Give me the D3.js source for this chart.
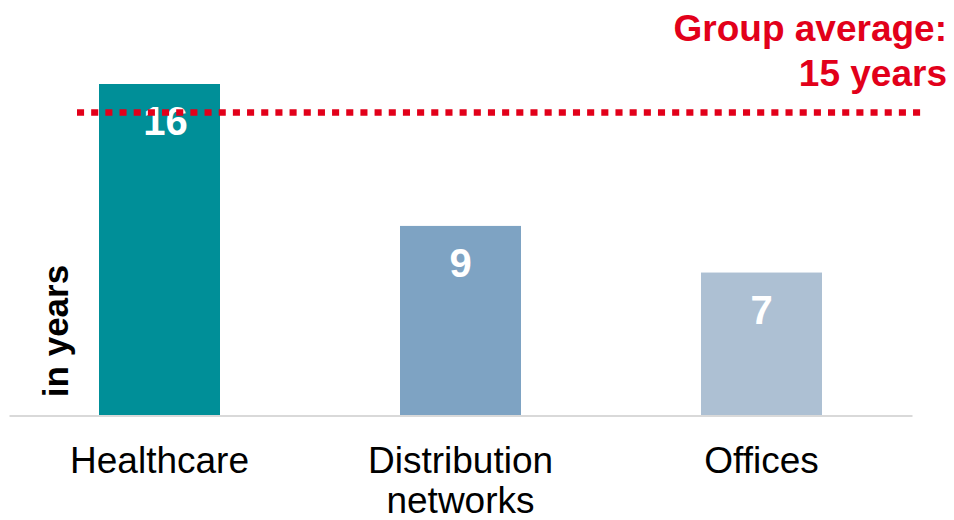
<!DOCTYPE html>
<html>
<head>
<meta charset="utf-8">
<script src="https://cdn.jsdelivr.net/npm/d3@7"></script>
<style>
  html, body { margin: 0; padding: 0; background: #fff; }
  svg { display: block; font-family: "Liberation Sans", Arial, sans-serif; }
</style>
</head>
<body>
<svg id="chart" width="954" height="520"></svg>
<script>
// ---- data ----
const categories = ["Healthcare", "Distribution networks", "Offices"];
const categoryLines = [["Healthcare"], ["Distribution", "networks"], ["Offices"]];
const values = [16, 9.15, 6.9];
const barColors = ["#008f98", "#7ea3c3", "#adc0d3"];
const groupAverage = 14.62;
const averageLabel = ["Group average:", "15 years"];
const axisTitle = "in years";

// ---- layout ----
const W = 954, H = 520;
const baseY = 415.5;
const svg = d3.select("#chart");

const x = d3.scaleBand()
  .domain(categories)
  .range([9, 912])
  .paddingInner(0.598)
  .paddingOuter(0.299);

const y = d3.scaleLinear()
  .domain([0, 16])
  .range([baseY, 84]);

// bars
svg.append("g").selectAll("rect")
  .data(categories)
  .join("rect")
  .attr("x", d => x(d))
  .attr("width", x.bandwidth())
  .attr("y", (d, i) => y(values[i]))
  .attr("height", (d, i) => y(0) - y(values[i]))
  .attr("fill", (d, i) => barColors[i]);

// value labels
const fmt = d3.format(".0f");
svg.append("g").selectAll("text")
  .data(categories)
  .join("text")
  .attr("x", d => x(d) + x.bandwidth() / 2)
  .attr("dx", (d, i) => fmt(values[i]).length > 1 ? 6 : 0)
  .attr("y", (d, i) => y(values[i]) + 51)
  .attr("text-anchor", "middle")
  .attr("fill", "#ffffff")
  .attr("font-weight", "bold")
  .attr("font-size", 40)
  .text((d, i) => fmt(values[i]));

// x axis
const xAxis = svg.append("g")
  .attr("transform", `translate(0,${baseY})`)
  .call(d3.axisBottom(x).tickSize(0).tickSizeOuter(0).tickFormat(""));
xAxis.select(".domain")
  .attr("stroke", "#d9d9d9")
  .attr("stroke-width", 2);

xAxis.selectAll(".tick").each(function(d, i) {
  const t = d3.select(this).append("text")
    .attr("fill", "#000")
    .attr("text-anchor", "middle")
    .attr("font-size", 37)
    .attr("y", 57);
  categoryLines[i].forEach((line, j) => {
    t.append("tspan")
      .attr("x", 0)
      .attr("dy", j === 0 ? 0 : 40)
      .text(line);
  });
});

// axis title
svg.append("text")
  .attr("transform", "translate(68,331) rotate(-90)")
  .attr("text-anchor", "middle")
  .attr("font-weight", "bold")
  .attr("font-size", 35)
  .attr("fill", "#000")
  .text(axisTitle);

// group average line
svg.append("line")
  .attr("x1", 77)
  .attr("x2", 921)
  .attr("y1", y(groupAverage))
  .attr("y2", y(groupAverage))
  .attr("stroke", "#e2001a")
  .attr("stroke-width", 6.5)
  .attr("stroke-dasharray", "7.08,7.09");

// group average label
const avgText = svg.append("text")
  .attr("text-anchor", "end")
  .attr("font-weight", "bold")
  .attr("font-size", 37)
  .attr("fill", "#e2001a");
averageLabel.forEach((line, j) => {
  avgText.append("tspan")
    .attr("x", 947)
    .attr("y", 41 + j * 45)
    .text(line);
});
</script>
</body>
</html>
